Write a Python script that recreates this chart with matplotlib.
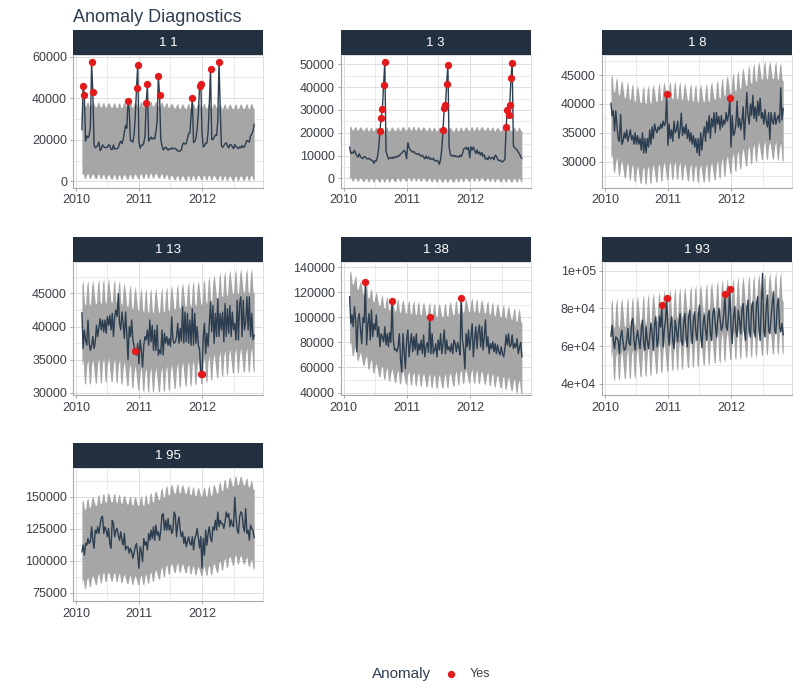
import numpy as np
import pandas as pd
import matplotlib
matplotlib.use("Agg")
import matplotlib.pyplot as plt
import matplotlib.dates as mdates
from matplotlib.ticker import MultipleLocator, FuncFormatter

plt.rcParams['font.family'] = ['Liberation Sans', 'DejaVu Sans']

# ---------------- data (values in thousands) ----------------
start_date = "2010-02-05"
panel_ids = ["1 1", "1 3", "1 8", "1 13", "1 38", "1 93", "1 95"]

# weeks per calendar month, Feb 2010 .. Oct 2012
month_weeks = [4, 4, 5, 4, 4, 5, 4, 4, 5, 4, 5,
               4, 4, 4, 5, 4, 4, 5, 4, 5, 4, 4, 5,
               4, 4, 5, 4, 4, 5, 4, 5, 4, 4]

# within-month seasonal shape (unit amplitude), one value per week
season_shape = [
    0.6, 1.0, -0.7, -0.9,  0.6, 1.0, -0.7, -0.9,  0.5, 1.0, 0.1, -0.8, -0.8,
    0.6, 1.0, -0.7, -0.9,  0.6, 1.0, -0.7, -0.9,  0.5, 1.0, 0.1, -0.8, -0.8,
    0.6, 1.0, -0.7, -0.9,  0.6, 1.0, -0.7, -0.9,  0.5, 1.0, 0.1, -0.8, -0.8,
    0.6, 1.0, -0.7, -0.9,  0.5, 1.0, 0.1, -0.8, -0.8,
    0.6, 1.0, -0.7, -0.9,  0.6, 1.0, -0.7, -0.9,  0.6, 1.0, -0.7, -0.9,
    0.5, 1.0, 0.1, -0.8, -0.8,  0.6, 1.0, -0.7, -0.9,  0.6, 1.0, -0.7, -0.9,
    0.5, 1.0, 0.1, -0.8, -0.8,  0.6, 1.0, -0.7, -0.9,  0.5, 1.0, 0.1, -0.8, -0.8,
    0.6, 1.0, -0.7, -0.9,  0.6, 1.0, -0.7, -0.9,  0.5, 1.0, 0.1, -0.8, -0.8,
    0.6, 1.0, -0.7, -0.9,  0.6, 1.0, -0.7, -0.9,  0.5, 1.0, 0.1, -0.8, -0.8,
    0.6, 1.0, -0.7, -0.9,  0.6, 1.0, -0.7, -0.9,  0.5, 1.0, 0.1, -0.8, -0.8,
    0.6, 1.0, -0.7, -0.9,  0.5, 1.0, 0.1, -0.8, -0.8,
    0.6, 1.0, -0.7, -0.9,  0.6, 1.0, -0.7, -0.9,
]

obs_1_1 = [
    24.92, 46.04, 41.60, 19.40, 21.83, 21.04, 22.14, 26.23, 57.26, 42.96, 17.60, 16.15, 16.56,
    17.41, 18.93, 14.77, 15.58, 17.56, 16.64, 16.22, 16.33, 16.33, 17.69, 17.15, 15.36, 15.38,
    17.51, 15.54, 15.74, 15.79, 16.24, 18.19, 19.35, 18.12, 20.09, 23.39, 26.98, 25.54, 38.64,
    34.24, 19.55, 19.55, 18.82, 22.52, 31.50, 44.91, 55.93, 19.12, 15.98, 17.36, 17.34, 18.46,
    21.67, 37.89, 46.85, 19.36, 20.33, 21.28, 20.33, 20.88, 20.40, 23.87, 28.76, 50.51, 41.51,
    20.14, 17.24, 15.14, 15.74, 16.43, 15.88, 14.98, 15.68, 15.36, 16.15, 15.65, 15.77, 15.92,
    15.30, 14.54, 14.69, 14.54, 15.28, 17.75, 18.54, 17.86, 18.34, 20.80, 23.08, 23.35, 31.58,
    39.89, 18.69, 19.05, 20.91, 25.29, 33.31, 45.77, 46.79, 23.35, 16.57, 16.89, 18.37, 18.38,
    23.51, 36.99, 54.06, 20.12, 20.11, 21.14, 22.37, 22.11, 28.95, 57.59, 34.68, 16.98, 16.35,
    17.15, 18.16, 18.52, 16.96, 16.07, 17.67, 17.56, 16.63, 15.72, 17.82, 16.57, 16.35, 15.73,
    16.63, 16.12, 17.33, 16.29, 16.68, 18.32, 19.62, 19.25, 18.95, 21.90, 22.76, 24.19, 27.39,
]
obs_1_3 = [
    13.7, 10.9, 11.5, 11.1, 12.3, 10.9, 10.0, 9.3, 10.8, 9.5, 9.0, 8.7, 9.6,
    9.4, 8.7, 8.5, 8.8, 8.3, 8.0, 7.8, 6.6, 7.8, 7.6, 9.5, 13.5, 20.8,
    26.7, 30.5, 41.0, 51.0, 12.0, 10.2, 8.5, 9.0, 9.2, 8.7, 9.4, 9.0, 9.6,
    9.3, 10.0, 9.8, 10.8, 11.0, 11.8, 12.3, 11.5, 8.6, 15.7, 13.5, 12.5, 12.0,
    11.5, 11.8, 11.0, 10.8, 10.5, 10.9, 10.0, 9.8, 10.2, 9.3, 8.6, 9.8, 8.7,
    9.5, 8.4, 8.8, 8.2, 8.9, 7.9, 7.6, 8.0, 7.4, 6.2, 8.5, 13.0, 21.2,
    31.0, 32.0, 41.5, 49.8, 14.0, 10.5, 9.8, 10.2, 9.6, 10.0, 9.5, 9.7, 9.3,
    10.2, 9.6, 10.8, 12.8, 13.2, 13.6, 12.6, 13.5, 9.0, 13.8, 12.5, 13.8, 12.2,
    11.0, 12.5, 10.8, 11.6, 10.2, 11.4, 9.6, 10.3, 8.4, 9.0, 8.2, 9.6, 8.6,
    8.8, 9.3, 8.2, 10.2, 9.8, 8.4, 7.8, 8.0, 7.5, 7.2, 7.8, 8.3, 22.5,
    30.2, 28.0, 32.0, 43.8, 50.8, 14.2, 13.5, 13.0, 12.4, 11.5, 10.8, 9.5, 8.8,
]
obs_1_8 = [
    40.1, 37.9, 38.8, 35.3, 38.8, 36.2, 34.0, 33.5, 38.2, 33.0, 33.5, 35.0, 34.0,
    35.5, 33.5, 34.5, 35.5, 33.8, 34.5, 33.0, 35.0, 33.0, 34.5, 33.0, 34.0, 32.0,
    35.0, 31.5, 34.0, 31.5, 34.0, 32.5, 35.5, 33.0, 36.0, 34.0, 36.5, 35.5, 35.0,
    36.0, 35.5, 36.5, 35.8, 37.0, 36.2, 36.8, 41.8, 32.8, 36.5, 34.0, 35.5, 33.5,
    37.0, 35.0, 35.5, 37.0, 34.0, 35.5, 38.4, 34.5, 36.0, 34.8, 36.5, 34.0, 35.5,
    33.5, 35.0, 33.0, 34.5, 32.5, 34.0, 31.5, 34.0, 31.0, 35.0, 32.0, 34.5, 36.0,
    33.5, 37.0, 35.0, 38.0, 34.0, 37.5, 36.0, 38.5, 35.0, 38.5, 36.5, 37.8, 35.5,
    38.0, 36.0, 37.2, 36.5, 38.5, 37.0, 38.2, 41.1, 32.5, 38.0, 34.5, 35.0, 36.5,
    40.5, 36.0, 37.5, 35.5, 37.0, 39.5, 33.8, 38.0, 42.0, 38.0, 36.5, 40.0, 38.0,
    41.5, 37.5, 39.5, 37.0, 40.5, 38.0, 41.0, 37.5, 38.5, 36.5, 39.0, 37.0, 36.0,
    38.5, 33.8, 38.5, 37.0, 36.5, 38.5, 36.5, 37.5, 38.0, 36.8, 42.8, 37.2, 39.2,
]
obs_1_13 = [
    42.1, 36.7, 39.5, 38.0, 37.2, 41.0, 37.5, 36.4, 37.2, 38.5, 36.7, 37.7, 40.2,
    38.5, 39.8, 41.2, 39.5, 41.0, 39.2, 41.0, 39.0, 41.5, 40.2, 41.7, 39.5, 42.0,
    38.5, 41.5, 42.5, 41.5, 45.0, 40.5, 39.5, 42.2, 40.5, 38.2, 42.2, 39.0, 35.0,
    40.0, 38.5, 41.0, 38.0, 37.0, 36.3, 35.7, 37.5, 34.4, 38.0, 36.5, 33.9, 37.2,
    38.5, 38.0, 39.5, 37.2, 41.0, 37.7, 40.2, 36.4, 39.5, 36.4, 40.2, 35.7, 36.5,
    35.9, 39.5, 35.7, 39.0, 37.5, 38.5, 37.2, 38.2, 37.0, 41.5, 38.0, 37.5, 37.7,
    38.5, 40.5, 37.5, 39.7, 37.8, 43.0, 37.5, 42.2, 37.7, 42.0, 37.5, 41.0, 37.2,
    42.7, 37.2, 42.0, 37.5, 40.0, 37.2, 36.5, 32.8, 32.9, 38.5, 40.5, 35.9, 39.0,
    37.0, 40.5, 43.7, 39.2, 43.2, 37.5, 42.0, 38.5, 44.2, 38.5, 42.0, 39.5, 42.2,
    37.7, 43.5, 38.5, 42.7, 39.0, 43.2, 38.5, 42.2, 39.5, 40.5, 38.0, 44.0, 38.0,
    43.5, 44.5, 38.5, 44.0, 39.5, 40.7, 44.5, 39.5, 44.5, 38.5, 42.0, 38.0, 38.7,
]
obs_1_38 = [
    116.5, 95.0, 102.0, 92.5, 108.5, 98.0, 72.5, 99.0, 103.0, 90.0, 79.0, 100.0, 96.0,
    128.5, 78.0, 95.0, 103.0, 82.0, 106.0, 84.5, 95.0, 90.0, 102.0, 84.5, 92.5, 76.5,
    87.0, 84.5, 80.5, 92.5, 78.0, 87.0, 76.5, 88.0, 80.0, 113.0, 82.0, 74.0, 75.0,
    72.5, 76.5, 87.0, 66.0, 56.5, 87.0, 72.5, 59.0, 82.0, 90.0, 68.5, 79.0, 87.0,
    72.5, 84.5, 74.0, 87.0, 70.0, 79.0, 74.0, 82.0, 71.0, 86.0, 68.5, 76.5, 80.0,
    72.0, 100.5, 71.0, 87.0, 71.0, 74.0, 79.0, 68.5, 82.0, 74.0, 87.0, 71.0, 79.0,
    90.0, 71.0, 82.0, 74.0, 76.5, 72.5, 79.0, 71.0, 82.0, 79.0, 72.5, 80.0, 76.0,
    70.0, 115.5, 82.0, 75.0, 59.0, 87.0, 76.5, 90.0, 74.0, 84.5, 95.0, 68.5, 82.0,
    92.5, 75.0, 88.5, 94.0, 76.5, 92.5, 74.0, 84.5, 98.0, 76.5, 84.5, 71.0, 79.0,
    75.0, 80.5, 72.5, 79.0, 71.0, 78.0, 72.5, 70.0, 76.5, 71.0, 68.5, 75.0, 86.0,
    78.0, 87.0, 76.5, 78.0, 86.0, 75.0, 79.0, 76.0, 83.0, 71.0, 76.0, 80.0, 68.5,
]
obs_1_93 = [
    65.2, 71.0, 63.0, 58.6, 64.8, 64.0, 63.0, 56.0, 64.8, 68.4, 62.0, 57.7, 58.6,
    63.0, 69.3, 61.3, 60.4, 72.8, 74.6, 63.0, 57.7, 64.0, 68.4, 63.0, 58.6, 68.4,
    73.7, 61.3, 57.7, 70.2, 63.0, 58.6, 65.0, 72.0, 66.6, 57.7, 72.0, 75.5, 59.5,
    63.0, 75.9, 70.0, 81.8, 59.5, 68.4, 73.7, 85.5, 68.4, 60.4, 70.2, 75.5, 63.0,
    58.6, 73.7, 68.4, 62.2, 71.0, 77.3, 63.0, 60.4, 72.8, 77.3, 64.8, 59.5, 75.5,
    79.0, 67.5, 61.3, 73.7, 78.2, 67.5, 63.0, 75.5, 81.7, 66.6, 59.2, 72.0, 76.4,
    68.4, 63.0, 75.5, 79.0, 66.6, 63.0, 77.3, 80.0, 72.0, 64.8, 73.7, 80.0, 74.0,
    68.4, 70.2, 77.3, 87.8, 70.2, 68.4, 77.3, 90.5, 70.2, 61.3, 75.5, 80.8, 68.4,
    64.8, 79.0, 73.7, 66.6, 79.0, 82.6, 68.4, 63.0, 79.0, 84.4, 68.4, 64.8, 80.8,
    83.5, 68.4, 64.8, 82.6, 86.2, 70.2, 63.0, 82.6, 98.6, 68.4, 64.8, 80.8, 87.0,
    68.4, 66.6, 75.0, 82.6, 88.8, 68.4, 66.6, 80.8, 85.3, 70.2, 67.5, 72.0, 66.0,
]
obs_1_95 = [
    107.0, 112.2, 104.5, 113.5, 112.2, 117.4, 113.5, 114.8, 126.5, 116.0, 109.7, 123.9, 121.3,
    126.5, 121.3, 128.0, 133.7, 134.7, 121.3, 126.5, 123.9, 118.7, 125.2, 113.5, 109.7, 131.6,
    129.0, 118.7, 123.9, 125.2, 120.0, 116.0, 122.6, 116.0, 112.2, 121.3, 108.4, 110.9, 110.9,
    105.8, 109.7, 107.0, 101.9, 106.0, 110.9, 113.5, 105.0, 94.1, 110.9, 107.0, 99.3, 117.4,
    112.2, 114.8, 108.4, 121.3, 116.0, 123.9, 117.4, 126.5, 116.0, 127.8, 120.0, 122.6, 116.0,
    123.9, 135.5, 136.8, 123.9, 131.6, 123.9, 132.9, 123.9, 127.8, 121.3, 123.9, 138.1, 135.5,
    118.7, 129.0, 134.2, 123.9, 118.7, 122.6, 113.5, 118.7, 110.9, 115.0, 118.7, 113.5, 112.2,
    118.7, 108.4, 117.4, 120.0, 125.2, 117.4, 110.0, 119.0, 94.1, 117.4, 104.5, 123.9, 112.2,
    121.3, 126.5, 117.4, 114.8, 126.5, 123.9, 131.6, 123.9, 138.1, 126.5, 131.6, 129.0, 129.0,
    125.2, 130.3, 138.1, 134.2, 136.8, 126.5, 132.0, 128.0, 126.5, 149.7, 134.2, 123.9, 121.3,
    134.2, 138.1, 136.8, 126.5, 122.6, 140.7, 121.3, 123.9, 116.0, 127.8, 125.2, 123.9, 118.0,
]

# monthly trend of the fitted (trend + season) centre line
trend_1_1 = [19.8, 19.8, 19.7, 19.6, 19.5, 19.4, 19.3, 19.3, 19.4, 19.5, 19.6,
             19.8, 19.9, 20.0, 19.9, 19.7, 19.4, 19.1, 18.9, 18.8, 18.9, 19.0, 19.1,
             19.1, 19.1, 19.0, 18.9, 18.8, 18.7, 18.7, 18.8, 18.9, 19.0]
trend_1_3 = [10.8, 10.7, 10.6, 10.5, 10.4, 10.4, 10.4, 10.4, 10.5, 10.6, 10.7,
             10.8, 10.8, 10.7, 10.6, 10.5, 10.4, 10.3, 10.3, 10.3, 10.4, 10.5, 10.6,
             10.7, 10.7, 10.7, 10.6, 10.5, 10.4, 10.4, 10.4, 10.4, 10.4]
trend_1_8 = [36.5, 36.0, 35.5, 35.2, 34.9, 34.6, 34.5, 34.6, 34.8, 35.0, 35.2,
             35.3, 35.3, 35.2, 35.0, 34.9, 34.8, 34.8, 34.9, 35.2, 35.5, 35.9, 36.3,
             36.7, 37.1, 37.6, 38.0, 38.4, 38.7, 38.8, 38.8, 38.7, 38.5]
trend_1_13 = [39.0, 39.0, 39.1, 39.2, 39.3, 39.3, 39.2, 39.0, 38.7, 38.4, 38.1,
              37.9, 37.8, 37.8, 37.8, 37.9, 38.1, 38.3, 38.5, 38.7, 38.8, 38.9, 39.0,
              39.3, 39.6, 39.9, 40.2, 40.4, 40.6, 40.7, 40.8, 40.8, 40.8]
trend_1_38 = [103.0, 99.0, 95.0, 92.0, 89.0, 86.0, 84.0, 82.5, 81.5, 80.5, 80.0,
              79.5, 79.0, 78.5, 78.0, 77.5, 77.0, 77.0, 77.5, 78.5, 79.5, 80.5, 81.0,
              81.0, 80.5, 80.0, 79.0, 78.0, 77.0, 76.0, 75.0, 73.5, 72.5]
trend_1_93 = [63.0, 63.2, 63.5, 63.8, 64.2, 64.6, 65.0, 65.5, 66.2, 66.9, 67.5,
              68.0, 68.4, 68.8, 69.3, 69.8, 70.3, 70.8, 71.3, 71.9, 72.5, 73.1, 73.6,
              74.0, 74.4, 74.8, 75.2, 75.6, 76.0, 76.4, 76.7, 76.9, 77.0]
trend_1_95 = [112.5, 114.0, 115.5, 117.0, 118.0, 118.3, 118.0, 117.3, 116.5, 115.8, 115.5,
              115.8, 116.8, 118.3, 120.0, 122.0, 123.8, 125.0, 125.3, 124.8, 124.0, 123.2, 122.7,
              122.8, 123.5, 125.0, 127.0, 129.0, 130.7, 131.7, 131.5, 130.0, 128.0]

season_amp = [1.3, 0.9, 1.7, 2.0, 6.0, 8.5, 4.0]
band_half = [17.3, 11.2, 7.0, 6.0, 28.5, 14.0, 31.0]

anom_1_1 = [1, 2, 8, 9, 38, 45, 46, 53, 54, 63, 64, 91, 97, 98, 106, 113]
anom_1_3 = [25, 26, 27, 28, 29, 77, 78, 79, 80, 81, 129, 130, 131, 132, 133, 134]
anom_1_8 = [46, 98]
anom_1_13 = [44, 98, 99]
anom_1_38 = [13, 35, 66, 92]
anom_1_93 = [42, 46, 94, 98]
anom_1_95 = []

y_limits = [(-3200, 60800), (-4200, 54100), (25400, 48500), (29650, 49700),
            (37800, 144000), (33800, 104500), (68300, 172200)]
y_major = [20000, 10000, 5000, 5000, 20000, 20000, 25000]

obs_all = [obs_1_1, obs_1_3, obs_1_8, obs_1_13, obs_1_38, obs_1_93, obs_1_95]
trend_all = [trend_1_1, trend_1_3, trend_1_8, trend_1_13, trend_1_38, trend_1_93, trend_1_95]
anom_all = [anom_1_1, anom_1_3, anom_1_8, anom_1_13, anom_1_38, anom_1_93, anom_1_95]

for o in obs_all:
    assert len(o) == len(season_shape) == sum(month_weeks), (len(o), len(season_shape))

# ---------------- styling ----------------
line_c = "#2c3e50"
band_c = "#a6a6a6"
red_c = "#e31a1c"
strip_c = "#233040"
text_c = "#3a3f47"

W, H = 800, 700
fig = plt.figure(figsize=(8, 7), dpi=100)

cols_left = [73.3, 341.0, 602.3]
rows_top = [30.0, 237.3, 443.3]
strip_h = 25.0
panel_h = 133.0
panel_w = 189.5

dates = pd.date_range(start_date, periods=len(obs_1_1), freq="7D")
span = dates[-1] - dates[0]
xlim = (dates[0] - span * 0.05, dates[-1] + span * 0.05)

for k, pid in enumerate(panel_ids):
    r, c = divmod(k, 3)
    left = cols_left[c]
    top = rows_top[r]
    ax = fig.add_axes([left / W, 1 - (top + strip_h + panel_h) / H, panel_w / W, panel_h / H])
    sax = fig.add_axes([left / W, 1 - (top + strip_h) / H, panel_w / W, strip_h / H])

    obs = np.array(obs_all[k]) * 1000
    trend_w = np.repeat(np.array(trend_all[k]), month_weeks)
    centre = (trend_w + season_amp[k] * np.array(season_shape)) * 1000
    lo = centre - band_half[k] * 1000
    hi = centre + band_half[k] * 1000

    ax.fill_between(dates, lo, hi, color=band_c, lw=0, zorder=2)
    ax.plot(dates, obs, color=line_c, lw=1.0, zorder=3)
    idx = anom_all[k]
    if idx:
        ax.scatter(dates[idx], obs[idx], s=28, color=red_c, lw=0, zorder=4)

    ax.set_xlim(xlim)
    ax.set_ylim(y_limits[k])
    ax.xaxis.set_major_locator(mdates.YearLocator())
    ax.xaxis.set_minor_locator(mdates.MonthLocator(bymonth=7))
    ax.xaxis.set_major_formatter(mdates.DateFormatter('%Y'))
    ax.yaxis.set_major_locator(MultipleLocator(y_major[k]))
    ax.yaxis.set_minor_locator(MultipleLocator(y_major[k] / 2))
    if k == 5:
        ax.yaxis.set_major_formatter(FuncFormatter(lambda v, p: f"{v:.0e}"))
    else:
        ax.yaxis.set_major_formatter(FuncFormatter(lambda v, p: f"{v:.0f}"))
    ax.grid(which='major', color='#dcdcdc', lw=0.7, zorder=0)
    ax.grid(which='minor', color='#e6e6e6', lw=0.6, zorder=0)
    ax.set_axisbelow(True)
    ax.tick_params(which='major', length=2.5, width=0.6, color='#9a9a9a',
                   labelsize=9, labelcolor=text_c, pad=2)
    ax.tick_params(which='minor', length=0)
    for side in ['top', 'right']:
        ax.spines[side].set_color('#dddddd')
        ax.spines[side].set_linewidth(0.7)
    for side in ['left', 'bottom']:
        ax.spines[side].set_color('#a8a8a8')
        ax.spines[side].set_linewidth(0.8)

    sax.set_facecolor(strip_c)
    sax.set_xticks([])
    sax.set_yticks([])
    for s in sax.spines.values():
        s.set_visible(False)
    sax.text(0.5, 0.5, pid, color='white', fontsize=9.5, ha='center', va='center',
             transform=sax.transAxes)

fig.text(73 / W, 1 - 17 / H, "Anomaly Diagnostics", fontsize=13, color=line_c,
         ha='left', va='center')

# legend
fig.text(402 / W, 1 - 674 / H, "Anomaly", fontsize=11, color=line_c, ha='center', va='center')
lax = fig.add_axes([440 / W, 1 - 684 / H, 22 / W, 20 / H])
lax.set_axis_off()
lax.set_xlim(0, 1)
lax.set_ylim(0, 1)
lax.scatter([0.5], [0.5], s=28, color=red_c, lw=0)
fig.text(470 / W, 1 - 674 / H, "Yes", fontsize=9, color=text_c, ha='left', va='center')

fig.savefig("out.png", dpi=100, facecolor='white')
